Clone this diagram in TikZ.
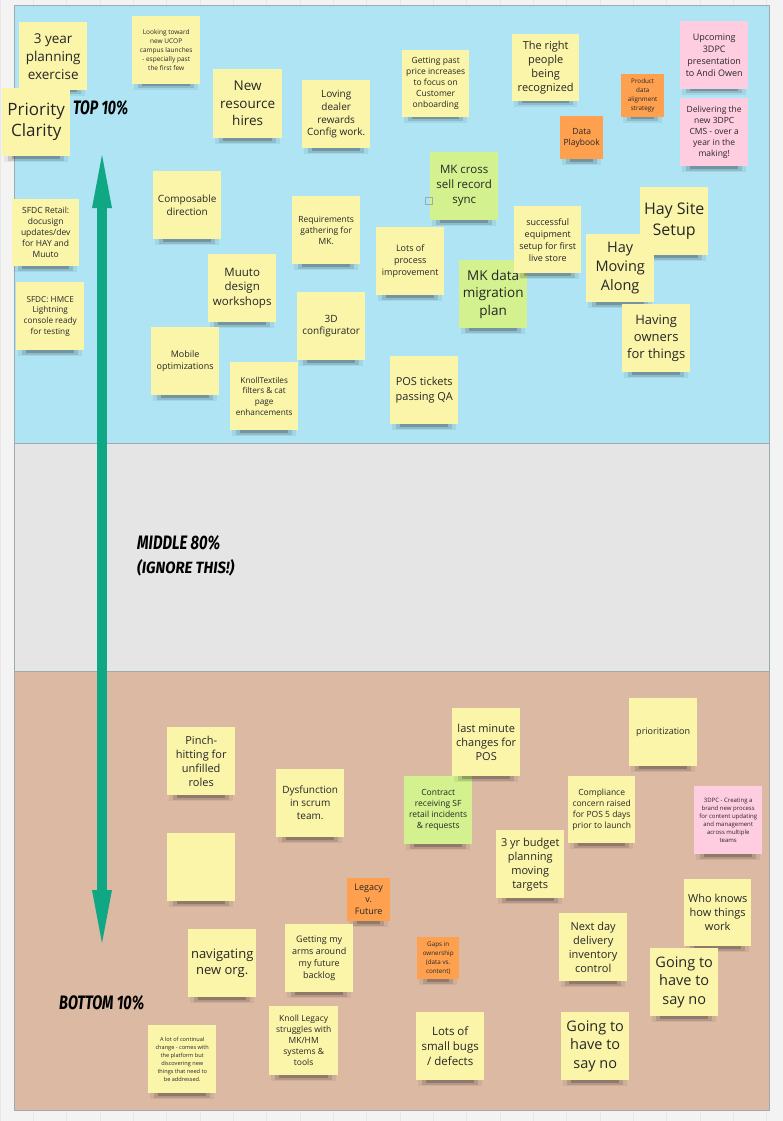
\documentclass[tikz,border=0pt]{standalone}
\usepackage{fontspec}
\usepackage{graphicx}
\newfontfamily\osans{Open Sans}
\newfontfamily\hdfont{Fira Sans}
\definecolor{bgc}{HTML}{F3F3F3}
\definecolor{gridc}{HTML}{E7E7E7}
\definecolor{bluef}{HTML}{AEE4F3}
\definecolor{greyf}{HTML}{E5E5E5}
\definecolor{brownf}{HTML}{DBB9A3}
\definecolor{framec}{HTML}{9DAAB0}
\definecolor{yel}{HTML}{FBF5AA}
\definecolor{grn}{HTML}{D3F28F}
\definecolor{org}{HTML}{FFA04E}
\definecolor{pnk}{HTML}{FFCDE0}
\definecolor{txt}{HTML}{262626}
\definecolor{arrowc}{HTML}{0FA784}
\tikzset{
  sticky/.style={fill=yel, inner sep=0pt, align=center, text=txt, font=\osans},
  fs/.style 2 args={font=\osans\fontsize{#1}{#2}\selectfont},
  heading/.style={inner sep=0pt, text=black, font=\hdfont\bfseries\itshape},
}
\newcommand\stk[6]{%
  \fill[black,opacity=.06] (#2+2,#3+#4-6) rectangle (#2+#4-2,#3+#4+6);
  \fill[black,opacity=.12] (#2+6,#3+#4-6) rectangle (#2+#4-6,#3+#4+4.5);
  \fill[black,opacity=.2] (#2+10,#3+#4-6) rectangle (#2+#4-10,#3+#4+2.5);
  \node[sticky,#5,minimum width=#4,minimum height=#4,anchor=north west] (#1) at (#2,#3) {#6};
}
\begin{document}
\begin{tikzpicture}[x=1pt,y=-1pt]
\useasboundingbox (0,0) rectangle (783,1121);
\fill[bgc] (0,0) rectangle (783,1121);
\draw[gridc, line width=0.6, step=33.33] (0,0) grid (783,1121);
% frames
\fill[bluef] (14,5) rectangle (769,443);
\fill[greyf] (14,443) rectangle (769,671);
\fill[brownf] (14,671) rectangle (769,1110);
\draw[framec, line width=0.8] (14,5) rectangle (769,443);
\draw[framec, line width=0.8] (14,443) rectangle (769,671);
\draw[framec, line width=0.8] (14,671) rectangle (769,1110);
% arrow
\fill[arrowc] (97,205) rectangle (107,893);
\fill[arrowc] (92,208) -- (102,155) -- (112,208) -- cycle;
\fill[arrowc] (92,890) -- (102,943) -- (112,890) -- cycle;
% headings
\node[heading, anchor=base west] (htop) at (73,114) {\resizebox{55pt}{14pt}{TOP 10\%}};
\node[heading, anchor=base west] (hmid) at (137,549) {\resizebox{83pt}{14pt}{MIDDLE 80\%}};
\node[heading, anchor=base west] (hign) at (137,573) {\resizebox{97pt}{14pt}{(IGNORE THIS!)}};
\node[heading, anchor=base west] (hbot) at (59,1009) {\resizebox{85pt}{14pt}{BOTTOM 10\%}};
% top stickies
\stk{s3year}{19}{22}{68}{fs={13.5}{18}}{3 year\\planning\\exercise}
\stk{sprio}{2}{88}{68}{fs={17}{21}}{Priority\\Clarity}
\stk{sucop}{132}{16}{68}{fs={6.5}{9}}{Looking toward\\new UCOP\\campus launches\\- especially past\\the first few}
\stk{snew}{213}{69}{69}{fs={13.5}{17.5}}{New\\resource\\hires}
\stk{sloving}{302}{80}{68}{fs={10}{12.7}}{Loving\\dealer\\rewards\\Config work.}
\stk{sprice}{402}{50}{67}{fs={8.5}{11}}{Getting past\\price increases\\to focus on\\Customer\\onboarding}
\stk{sright}{512}{34}{67}{fs={11}{14.2}}{The right\\people\\being\\recognized}
\stk{sprod}{621}{74}{43}{fs={6.3}{9},fill=org}{Product\\data\\alignment\\strategy}
\stk{splay}{560}{116}{43}{fs={8.5}{11},fill=org}{Data\\Playbook}
\stk{supc}{680}{21}{68}{fs={9}{11.8},fill=pnk}{Upcoming\\3DPC\\presentation\\to Andi Owen}
\stk{sdeliv}{680}{98}{68}{fs={8.5}{11.2},fill=pnk}{Delivering the\\new 3DPC\\CMS - over a\\year in the\\making!}
\stk{scomp}{153}{171}{68}{fs={10}{13}}{Composable\\direction}
\stk{smkx}{430}{152}{68}{fs={11.5}{15},fill=grn}{MK cross\\sell record\\sync}
\draw[framec, line width=0.6] (425,197) rectangle (432,204);
\stk{ssfdc1}{12}{199}{67}{fs={8.5}{11}}{SFDC Retail:\\docusign\\updates/dev\\for HAY and\\Muuto}
\stk{sreq}{292}{196}{68}{fs={8.5}{11.2}}{Requirements\\gathering for\\MK.}
\stk{slots}{376}{227}{68}{fs={9}{12.2}}{Lots of\\process\\improvement}
\stk{smkd}{459}{260}{68}{fs={13.5}{17.5},fill=grn}{MK data\\migration\\plan}
\stk{ssucc}{514}{206}{67}{fs={9}{12}}{successful\\equipment\\setup for first\\live store}
\stk{shaysite}{640}{187}{68}{fs={16}{20.7}}{Hay Site\\Setup}
\stk{shaymov}{586}{234}{68}{fs={14.5}{18.8}}{Hay\\Moving\\Along}
\stk{sown}{622}{304}{68}{fs={13}{17}}{Having\\owners\\for things}
\stk{ssfdc2}{16}{282}{68}{fs={8.2}{10.7}}{SFDC: HMCE\\Lightning\\console ready\\for testing}
\stk{smuuto}{208}{254}{68}{fs={11.5}{14.8}}{Muuto\\design\\workshops}
\stk{s3d}{297}{292}{68}{fs={10}{12.7}}{3D\\configurator}
\stk{smobile}{151}{327}{68}{fs={9}{12}}{Mobile\\optimizations}
\stk{sknoll}{230}{362}{68}{fs={8.2}{10.7}}{KnollTextiles\\filters \& cat\\page\\enhancements}
\stk{spos}{390}{356}{68}{fs={11}{14.7}}{POS tickets\\passing QA}
% bottom stickies
\stk{spinch}{167}{727}{68}{fs={11}{14}}{Pinch-\\hitting for\\unfilled\\roles}
\stk{sdys}{276}{769}{68}{fs={10}{13}}{Dysfunction\\in scrum\\team.}
\stk{sempty}{167}{833}{68}{}{}
\stk{scontract}{404}{776}{68}{fs={8.5}{11},fill=grn}{Contract\\receiving SF\\retail incidents\\\& requests}
\stk{slegacy}{347}{878}{43}{fs={9}{12},fill=org}{Legacy\\v.\\Future}
\stk{slast}{452}{708}{68}{fs={11}{14.2}}{last minute\\changes for\\POS}
\stk{sprior}{629}{698}{68}{fs={9}{12}}{prioritization}
\stk{scompl}{568}{776}{67}{fs={8.5}{11}}{Compliance\\concern raised\\for POS 5 days\\prior to launch}
\stk{s3dpc}{694}{786}{68}{fs={6}{8},fill=pnk}{3DPC - Creating a\\brand new process\\for content updating\\and management\\across multiple\\teams}
\stk{sbudget}{496}{830}{68}{fs={11}{14}}{3 yr budget\\planning\\moving\\targets}
\stk{swho}{684}{879}{67}{fs={11}{14}}{Who knows\\how things\\work}
\stk{snext}{559}{913}{68}{fs={11}{14}}{Next day\\delivery\\inventory\\control}
\stk{sgaps}{417}{937}{42}{fs={6.3}{8.7},fill=org}{Gaps in\\ownership\\(data vs.\\content)}
\stk{sgoing1}{650}{948}{68}{fs={14.5}{18.7}}{Going to\\have to\\say no}
\stk{sgoing2}{561}{1012}{68}{fs={14.5}{18.7}}{Going to\\have to\\say no}
\stk{sbugs}{416}{1012}{68}{fs={11.5}{14.8}}{Lots of\\small bugs\\/ defects}
\stk{snav}{188}{929}{68}{fs={13}{16.7}}{navigating\\new org.}
\stk{sarms}{285}{924}{68}{fs={9}{12}}{Getting my\\arms around\\my future\\backlog}
\stk{scont}{148}{1025}{68}{fs={5.6}{8}}{A lot of continual\\change - comes with\\the platform but\\discovering new\\things that need to\\be addressed.}
\stk{sknleg}{269}{1006}{69}{fs={8.5}{11}}{Knoll Legacy\\struggles with\\MK/HM\\systems \&\\tools}
\end{tikzpicture}
\end{document}
